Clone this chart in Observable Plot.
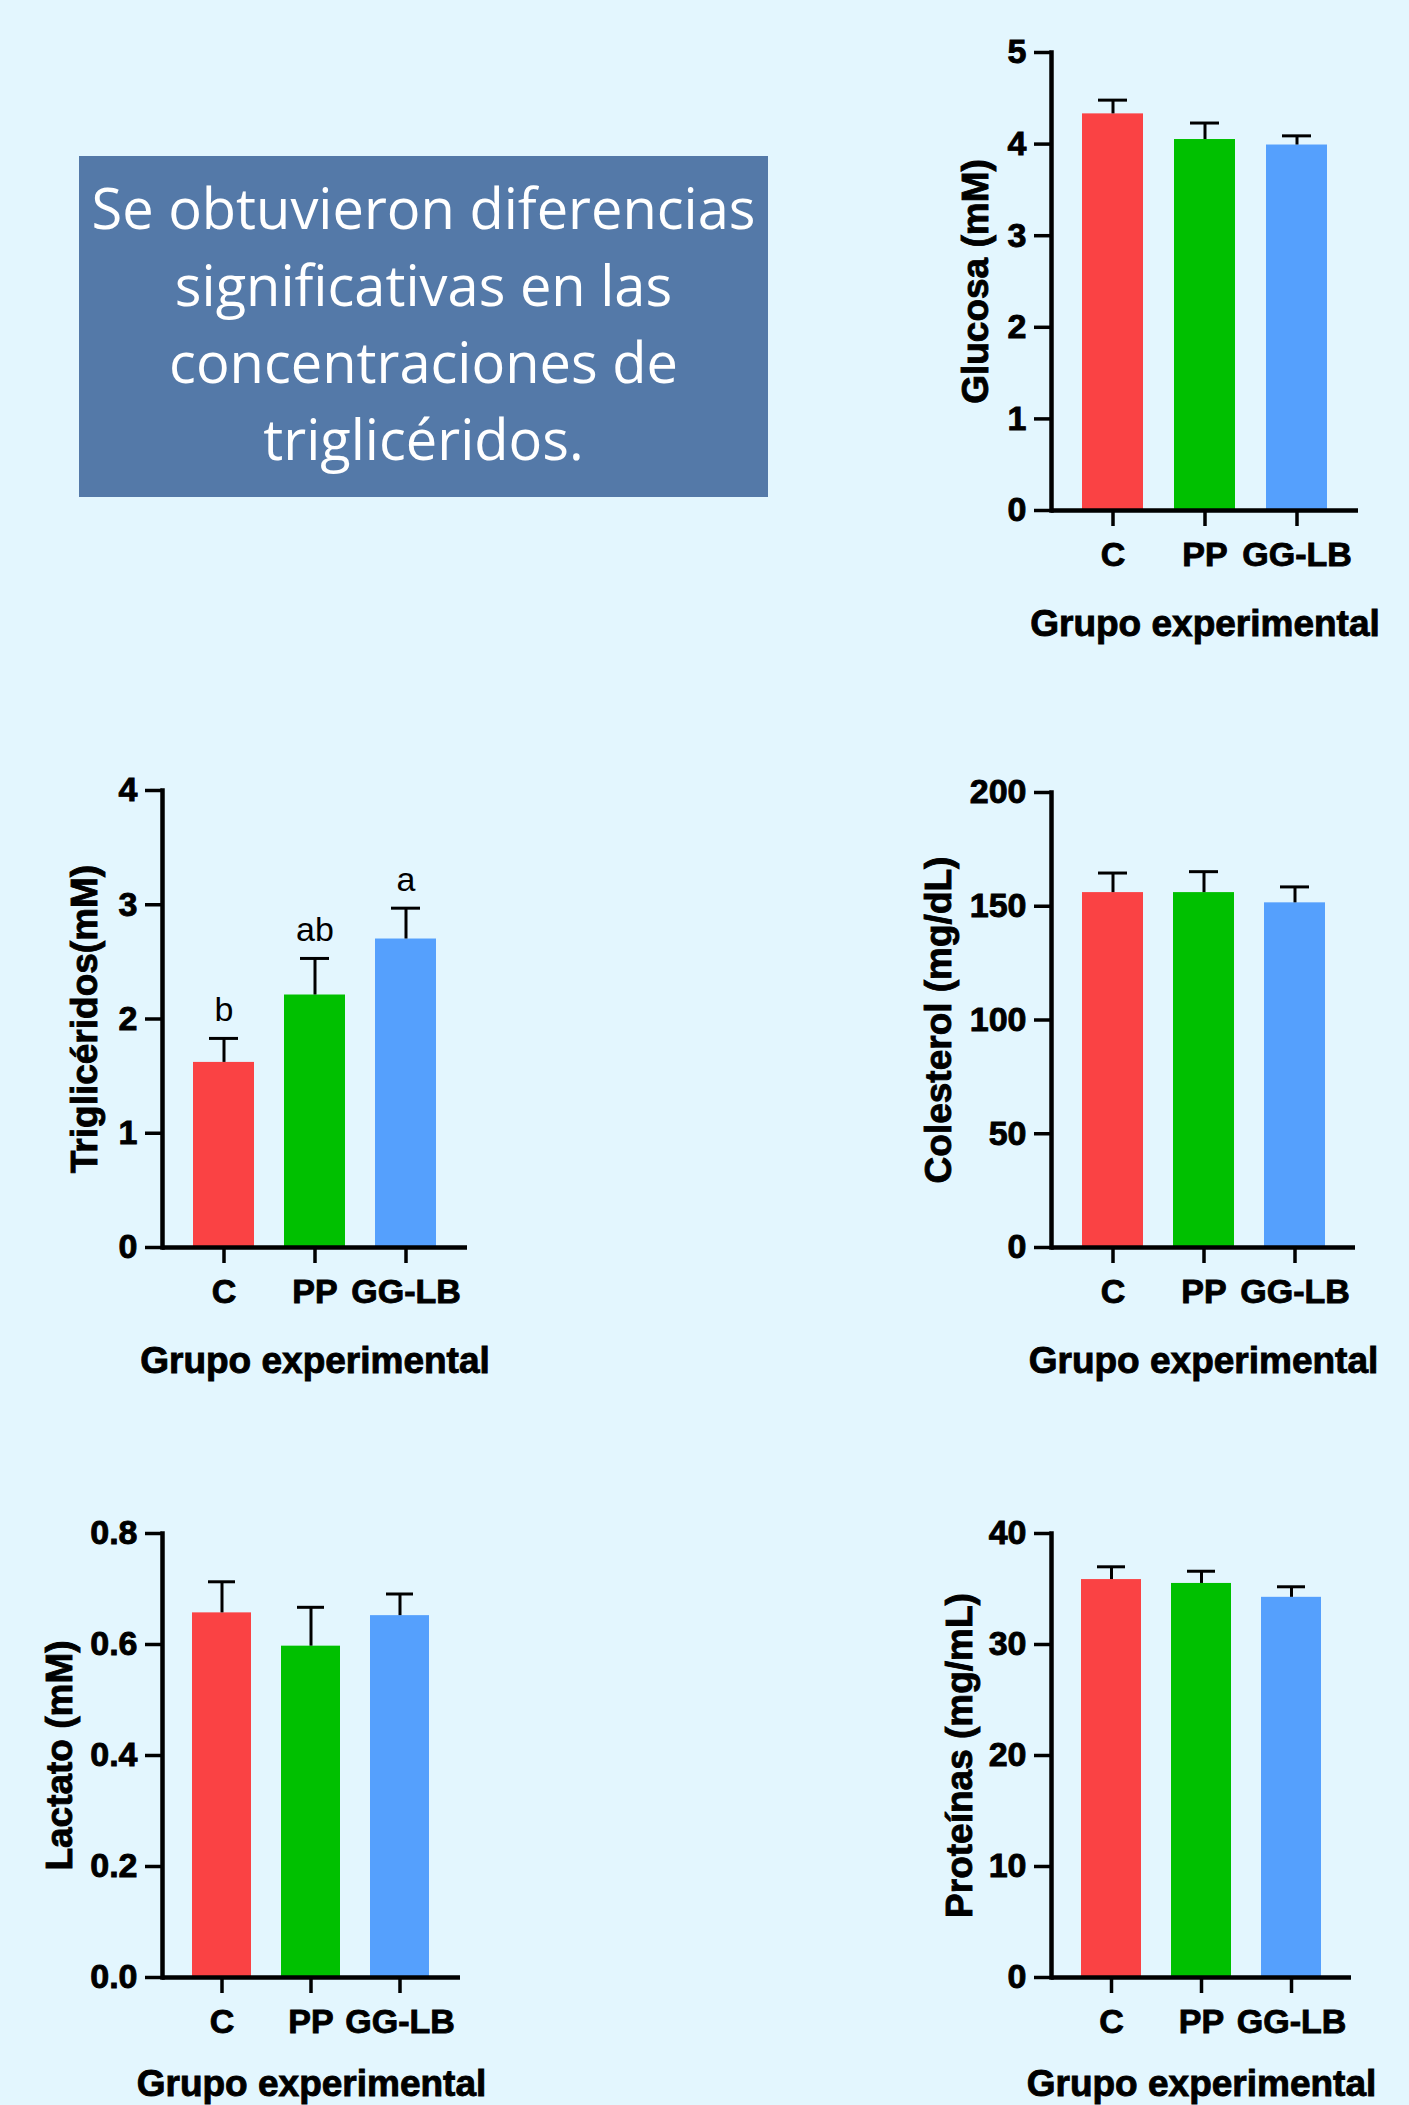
<!DOCTYPE html>
<html lang="es">
<head>
<meta charset="utf-8">
<script src="https://cdn.jsdelivr.net/npm/d3@7"></script>
<script src="https://cdn.jsdelivr.net/npm/@observablehq/plot@0.6"></script>
<style>
  html, body { margin: 0; padding: 0; }
  body { width: 1409px; height: 2105px; background: #E3F6FE; position: relative; overflow: hidden; }
  .panel { position: absolute; }
  .panel text.bold { stroke: #000; stroke-width: 0.9px; }
  .note {
    position: absolute; left: 79px; top: 156px; width: 689px; height: 341px;
    background: #5479A8; color: #fff; display: flex; align-items: center; justify-content: center;
    font-family: "Open Sans", sans-serif; font-size: 56px; line-height: 77px; text-align: center; white-space: nowrap;
  }
  .note div { margin-top: -8px; }
</style>
</head>
<body>
<div class="note"><div>Se obtuvieron diferencias<br>significativas en las<br>concentraciones de<br>triglicéridos.</div></div>
<script>
// Experimental groups and bar colours
const groups = ["C", "PP", "GG-LB"];
const groupColors = ["#FA4244", "#00C000", "#55A0FD"];
const xTitle = "Grupo experimental";

// Glucosa (mM): mean and SEM per group
const glucosaMean = [4.33, 4.05, 3.99];
const glucosaSem = [0.15, 0.18, 0.10];
const glucosaTicks = [0, 1, 2, 3, 4, 5];

// Triglicéridos (mM) with significance letters
const trigMean = [1.62, 2.21, 2.70];
const trigSem = [0.21, 0.32, 0.27];
const trigTicks = [0, 1, 2, 3, 4];
const trigLetters = ["b", "ab", "a"];

// Colesterol (mg/dL)
const colMean = [156, 156, 151.5];
const colSem = [8.6, 9.2, 7.0];
const colTicks = [0, 50, 100, 150, 200];

// Lactato (mM)
const lacMean = [0.657, 0.597, 0.652];
const lacSem = [0.056, 0.070, 0.039];
const lacTicks = [0, 0.2, 0.4, 0.6, 0.8];

// Proteínas (mg/mL)
const protMean = [35.85, 35.5, 34.25];
const protSem = [1.15, 1.1, 0.95];
const protTicks = [0, 10, 20, 30, 40];

const font = "'Liberation Sans', Arial, sans-serif";

function panel({mean, sem, ticks, format, yLabel, letters, frame, titleOffset, xTitleGap}) {
  const {sx, sy, sw, sh, x0, x1, yTop, yZero} = frame;
  const rows = groups.map((g, i) => ({group: g, mean: mean[i], top: mean[i] + sem[i], letter: letters ? letters[i] : ""}));
  const marks = [
    Plot.barY(rows, {x: "group", y: "mean", fill: "group"}),
    Plot.ruleX(rows, {x: "group", y1: "mean", y2: "top", stroke: "#000", strokeWidth: 3}),
    Plot.tickY(rows, {x: "group", y: "top", stroke: "#000", strokeWidth: 3, insetLeft: 16, insetRight: 16}),
    Plot.ruleY([0], {stroke: "#000", strokeWidth: 4.5}),
    Plot.frame({anchor: "left", stroke: "#000", strokeWidth: 4.5}),
    Plot.axisY({ticks, tickSize: 17, tickPadding: 8, tickFormat: format, fontSize: 34, fontWeight: "bold", strokeWidth: 3.5, label: null}),
    Plot.axisX({tickSize: 16, tickPadding: 15, fontSize: 34, fontWeight: "bold", strokeWidth: 3.5, label: null}),
    Plot.text([yLabel], {frameAnchor: "left", textAnchor: "middle", lineAnchor: "middle", rotate: -90, dx: -titleOffset, fontSize: 37, fontWeight: "bold", fill: "#000"}),
    Plot.text([xTitle], {frameAnchor: "bottom", lineAnchor: "bottom", dy: xTitleGap, fontSize: 37, fontWeight: "bold", fill: "#000"})
  ];
  if (letters) {
    marks.push(Plot.text(rows, {x: "group", y: "top", text: "letter", dy: -17, lineAnchor: "bottom", fontSize: 34, fill: "#000"}));
  }
  const svg = Plot.plot({
    width: sw, height: sh,
    marginLeft: x0 - sx, marginRight: sx + sw - x1,
    marginTop: yTop - sy, marginBottom: sy + sh - yZero,
    style: {background: "transparent", fontFamily: font, color: "#000", overflow: "visible"},
    x: {type: "band", domain: groups, padding: 0.333, axis: null},
    y: {domain: [ticks[0], ticks[ticks.length - 1]], axis: null},
    color: {domain: groups, range: groupColors},
    marks
  });
  // thicken the bold labels slightly
  svg.querySelectorAll("g[font-weight='bold'] text, text[font-weight='bold']").forEach(t => t.classList.add("bold"));
  svg.classList.add("panel");
  svg.style.left = sx + "px";
  svg.style.top = sy + "px";
  document.body.appendChild(svg);
}

const fmt0 = d3.format("d");
const fmt1 = d3.format(".1f");

panel({mean: glucosaMean, sem: glucosaSem, ticks: glucosaTicks, format: fmt0, yLabel: "Glucosa (mM)", titleOffset: 75, xTitleGap: 125,
  frame: {sx: 880, sy: 0, sw: 529, sh: 700, x0: 1051, x1: 1358, yTop: 52, yZero: 510}});
panel({mean: trigMean, sem: trigSem, ticks: trigTicks, format: fmt0, yLabel: "Triglicéridos(mM)", letters: trigLetters, titleOffset: 77, xTitleGap: 125,
  frame: {sx: 0, sy: 720, sw: 560, sh: 700, x0: 162, x1: 467, yTop: 790, yZero: 1247}});
panel({mean: colMean, sem: colSem, ticks: colTicks, format: fmt0, yLabel: "Colesterol (mg/dL)", titleOffset: 112, xTitleGap: 125,
  frame: {sx: 880, sy: 720, sw: 529, sh: 700, x0: 1051, x1: 1355, yTop: 792, yZero: 1247}});
panel({mean: lacMean, sem: lacSem, ticks: lacTicks, format: fmt1, yLabel: "Lactato (mM)", titleOffset: 102, xTitleGap: 118,
  frame: {sx: 0, sy: 1440, sw: 560, sh: 665, x0: 162, x1: 460, yTop: 1533, yZero: 1977}});
panel({mean: protMean, sem: protSem, ticks: protTicks, format: fmt0, yLabel: "Proteínas (mg/mL)", titleOffset: 91, xTitleGap: 118,
  frame: {sx: 880, sy: 1440, sw: 529, sh: 665, x0: 1051, x1: 1351, yTop: 1533, yZero: 1977}});
</script>
</body>
</html>
